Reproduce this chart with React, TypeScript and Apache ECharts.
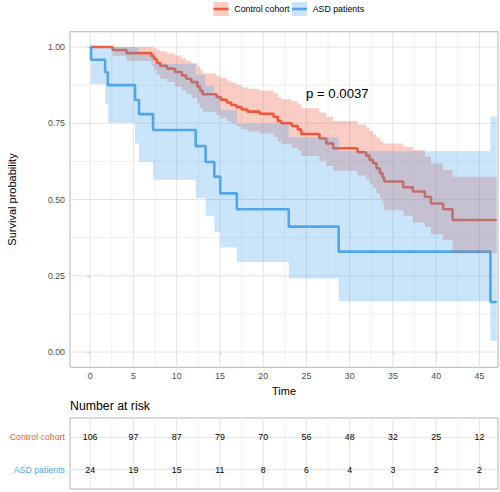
import React, { useEffect, useRef } from 'react';
import * as echarts from 'echarts';

const FONT = '"Liberation Sans", Arial, Helvetica, sans-serif';
const RED = '#EE5A3C';
const BLUE = '#4FA6EA';
const RED_FILL = 'rgba(238,90,60,0.3)';
const BLUE_FILL = 'rgba(79,166,234,0.3)';
const GRID_MAJOR = '#e4e4e4';
const GRID_MINOR = '#f0f0f0';
const BORDER = '#b3b3b3';
const AXIS_TEXT = '#4d4d4d';

// Control cohort Kaplan-Meier estimate (time, survival, 95% CI upper, lower)
const ctrlTime = [0, 2.6, 4.2, 7.1, 7.4, 7.7, 8.1, 8.9, 9.8, 10.6, 11.1, 11.7, 12.4, 12.7, 13.0, 14.6, 15.1, 15.8, 16.3, 16.9, 17.5, 18.2, 19.6, 21.2, 21.7, 22.1, 23.3, 24.0, 24.4, 26.5, 27.3, 28.1, 30.9, 31.9, 32.3, 32.7, 33.1, 33.5, 33.8, 34.0, 36.2, 37.3, 38.7, 39.4, 40.8, 41.9];
const ctrlSurv = [1, 0.990, 0.980, 0.970, 0.960, 0.948, 0.938, 0.929, 0.918, 0.907, 0.896, 0.885, 0.870, 0.857, 0.845, 0.836, 0.827, 0.818, 0.810, 0.803, 0.795, 0.788, 0.781, 0.771, 0.757, 0.750, 0.741, 0.730, 0.715, 0.700, 0.684, 0.668, 0.655, 0.644, 0.630, 0.619, 0.602, 0.586, 0.572, 0.559, 0.540, 0.526, 0.509, 0.487, 0.468, 0.433];
const ctrlUpper = [1, 1, 1, 1, 0.996, 0.990, 0.985, 0.979, 0.972, 0.963, 0.955, 0.947, 0.937, 0.925, 0.914, 0.905, 0.898, 0.890, 0.884, 0.876, 0.868, 0.863, 0.857, 0.848, 0.836, 0.829, 0.822, 0.812, 0.799, 0.785, 0.771, 0.757, 0.745, 0.736, 0.724, 0.714, 0.703, 0.692, 0.688, 0.684, 0.673, 0.662, 0.640, 0.619, 0.597, 0.575];
const ctrlLower = [1, 0.971, 0.954, 0.938, 0.925, 0.909, 0.896, 0.885, 0.870, 0.858, 0.846, 0.833, 0.815, 0.800, 0.788, 0.777, 0.766, 0.756, 0.748, 0.740, 0.731, 0.723, 0.716, 0.704, 0.690, 0.681, 0.670, 0.659, 0.643, 0.627, 0.610, 0.594, 0.579, 0.566, 0.550, 0.538, 0.520, 0.503, 0.490, 0.465, 0.447, 0.425, 0.410, 0.386, 0.366, 0.324];

// ASD patients Kaplan-Meier estimate
const asdTime = [0, 0.1, 1.73, 2.04, 5.19, 5.65, 7.27, 12.2, 13.35, 14.35, 15.04, 16.96, 22.96, 28.73, 46.27];
const asdSurv = [1, 0.958, 0.917, 0.875, 0.826, 0.780, 0.728, 0.675, 0.623, 0.575, 0.520, 0.468, 0.411, 0.329, 0.164];
const asdUpper = [1, 1, 1, 1, 0.997, 0.975, 0.945, 0.910, 0.872, 0.839, 0.793, 0.748, 0.704, 0.658, 0.772];
const asdLower = [1, 0.878, 0.813, 0.752, 0.684, 0.624, 0.565, 0.505, 0.447, 0.394, 0.343, 0.295, 0.241, 0.166, 0.036];

const tEnd = 47.0;

// Axis ticks / grid positions
const xMajor = [0, 5, 10, 15, 20, 25, 30, 35, 40, 45];
const xMinor = [2.5, 7.5, 12.5, 17.5, 22.5, 27.5, 32.5, 37.5, 42.5];
const yMajor = [0, 0.25, 0.5, 0.75, 1];
const yMinor = [0.125, 0.375, 0.625, 0.875];

// Number at risk table
const riskTimes = [0, 5, 10, 15, 20, 25, 30, 35, 40, 45];
const riskControl = [106, 97, 87, 79, 70, 56, 48, 32, 25, 12];
const riskASD = [24, 19, 15, 11, 8, 6, 4, 3, 2, 2];
const riskRows = [1, 2]; // 1 = ASD patients, 2 = Control cohort

const isMult = (v: number, s: number) => Math.abs(v / s - Math.round(v / s)) < 1e-6;

function bandRender(time: number[], up: number[], lo: number[], fill: string) {
  return (params: any, api: any) => {
    const n = time.length;
    const pts: number[][] = [];
    for (let i = 0; i < n; i++) {
      const x0 = time[i];
      const x1 = i < n - 1 ? time[i + 1] : tEnd;
      pts.push(api.coord([x0, up[i]]));
      pts.push(api.coord([x1, up[i]]));
    }
    for (let i = n - 1; i >= 0; i--) {
      const x0 = time[i];
      const x1 = i < n - 1 ? time[i + 1] : tEnd;
      pts.push(api.coord([x1, lo[i]]));
      pts.push(api.coord([x0, lo[i]]));
    }
    return { type: 'polygon', shape: { points: pts }, style: { fill }, silent: true };
  };
}

function gridRender(xs1: number[], xs2: number[], ys1: number[], ys2: number[]) {
  return (params: any, api: any) => {
    const cs = params.coordSys;
    const children: any[] = [];
    const vline = (v: number, color: string) => {
      const p = api.coord([v, ys1.length ? ys1[0] : 1]);
      children.push({ type: 'line', shape: { x1: p[0], y1: cs.y, x2: p[0], y2: cs.y + cs.height }, style: { stroke: color, lineWidth: 1 }, silent: true });
    };
    const hline = (v: number, color: string) => {
      const p = api.coord([0, v]);
      children.push({ type: 'line', shape: { x1: cs.x, y1: p[1], x2: cs.x + cs.width, y2: p[1] }, style: { stroke: color, lineWidth: 1 }, silent: true });
    };
    xs2.forEach((v) => vline(v, GRID_MINOR));
    ys2.forEach((v) => hline(v, GRID_MINOR));
    xs1.forEach((v) => vline(v, GRID_MAJOR));
    ys1.forEach((v) => hline(v, GRID_MAJOR));
    return { type: 'group', children };
  };
}

const stepData = (time: number[], surv: number[]) =>
  time.map((t, i) => [t, surv[i]]).concat([[tEnd, surv[surv.length - 1]]]);

export default function App() {
  const ref = useRef<HTMLDivElement>(null);

  useEffect(() => {
    if (!ref.current) return;
    const chart = echarts.init(ref.current, undefined, { renderer: 'svg' });

    const riskData = riskTimes
      .map((t, i) => [t, riskRows[1], riskControl[i]])
      .concat(riskTimes.map((t, i) => [t, riskRows[0], riskASD[i]]));

    const option: any = {
      animation: false,
      backgroundColor: '#ffffff',
      textStyle: { fontFamily: FONT },
      grid: [
        { left: 70, top: 31.75, width: 428, height: 335.5, show: true, borderColor: BORDER, borderWidth: 1, backgroundColor: 'transparent', containLabel: false, outerBoundsMode: 'none' },
        { left: 70, top: 418, width: 428, height: 71, show: true, borderColor: BORDER, borderWidth: 1, backgroundColor: 'transparent', containLabel: false, outerBoundsMode: 'none' },
      ],
      xAxis: [
        {
          type: 'value', gridIndex: 0, min: -2.33, max: 47.15, minInterval: 5, maxInterval: 5,
          axisLine: { show: false },
          axisTick: { show: true, customValues: xMajor, length: 3, lineStyle: { color: BORDER } },
          axisLabel: { customValues: xMajor, formatter: (v: number) => (isMult(v, 5) && v >= 0 && v <= 45 ? String(v) : ''), margin: 4, fontSize: 8.8, color: AXIS_TEXT, fontFamily: FONT },
          splitLine: { show: false },
          name: 'Time', nameLocation: 'middle', nameGap: 6,
          nameTextStyle: { fontSize: 11, color: '#000', fontFamily: FONT },
        },
        {
          type: 'value', gridIndex: 1, min: -2.33, max: 47.15, minInterval: 5, maxInterval: 5,
          axisLine: { show: false }, axisTick: { show: false }, axisLabel: { show: false }, splitLine: { show: false },
        },
      ],
      yAxis: [
        {
          type: 'value', gridIndex: 0, min: -0.05, max: 1.05, minInterval: 0.25, maxInterval: 0.25,
          axisLine: { show: false },
          axisTick: { show: true, customValues: yMajor, length: 3, lineStyle: { color: BORDER } },
          axisLabel: { customValues: yMajor, formatter: (v: number) => (isMult(v, 0.25) && v >= 0 && v <= 1 ? v.toFixed(2) : ''), margin: 5, fontSize: 8.8, color: AXIS_TEXT, fontFamily: FONT },
          splitLine: { show: false },
          name: 'Survival probability', nameLocation: 'middle', nameGap: 53,
          nameTextStyle: { fontSize: 11, color: '#000', fontFamily: FONT },
        },
        {
          type: 'value', gridIndex: 1, min: 0.4, max: 2.6, minInterval: 1, maxInterval: 1,
          axisLine: { show: false },
          axisTick: { show: true, customValues: riskRows, length: 3, lineStyle: { color: BORDER } },
          axisLabel: {
            customValues: riskRows,
            formatter: (v: number) => (Math.abs(v - 1) < 1e-6 ? '{a|ASD patients}' : Math.abs(v - 2) < 1e-6 ? '{c|Control cohort}' : ''),
            margin: 5,
            rich: {
              a: { color: BLUE, fontSize: 8.8, fontFamily: FONT },
              c: { color: RED, fontSize: 8.8, fontFamily: FONT },
            },
          },
          splitLine: { show: false },
        },
      ],
      series: [
        { type: 'custom', xAxisIndex: 0, yAxisIndex: 0, data: [[0, 0]], renderItem: gridRender(xMajor, xMinor, yMajor, yMinor), silent: true, z: 1 },
        { type: 'line', name: 'Control cohort', xAxisIndex: 0, yAxisIndex: 0, data: stepData(ctrlTime, ctrlSurv), step: 'end', showSymbol: false, symbol: 'none', lineStyle: { color: RED, width: 2.6 }, itemStyle: { color: RED }, silent: true, z: 2 },
        { type: 'line', name: 'ASD patients', xAxisIndex: 0, yAxisIndex: 0, data: stepData(asdTime, asdSurv), step: 'end', showSymbol: false, symbol: 'none', lineStyle: { color: BLUE, width: 2.6 }, itemStyle: { color: BLUE }, silent: true, z: 2 },
        { type: 'custom', xAxisIndex: 0, yAxisIndex: 0, data: [[0, 0]], renderItem: bandRender(ctrlTime, ctrlUpper, ctrlLower, RED_FILL), silent: true, z: 3 },
        { type: 'custom', xAxisIndex: 0, yAxisIndex: 0, data: [[0, 0]], renderItem: bandRender(asdTime, asdUpper, asdLower, BLUE_FILL), silent: true, z: 4 },
        { type: 'custom', xAxisIndex: 1, yAxisIndex: 1, data: [[0, 1]], renderItem: gridRender(xMajor, xMinor, riskRows, []), silent: true, z: 1 },
        {
          type: 'custom', xAxisIndex: 1, yAxisIndex: 1, data: riskData, silent: true, z: 3,
          renderItem: (params: any, api: any) => {
            const p = api.coord([api.value(0), api.value(1)]);
            return {
              type: 'text', x: p[0], y: p[1],
              style: { text: String(api.value(2)), align: 'center', verticalAlign: 'middle', textAlign: 'center', textVerticalAlign: 'middle', fontSize: 8.8, fontFamily: FONT, fill: '#000' },
            };
          },
        },
      ],
      graphic: [
        { type: 'rect', shape: { x: 213.5, y: 2, width: 15, height: 14 }, style: { fill: RED_FILL }, silent: true },
        { type: 'line', shape: { x1: 213.5, y1: 9, x2: 228.5, y2: 9 }, style: { stroke: RED, lineWidth: 2.6 }, silent: true },
        { type: 'text', x: 234.3, y: 9, style: { text: 'Control cohort', fontSize: 8.8, fontFamily: FONT, fill: '#000', verticalAlign: 'middle', textVerticalAlign: 'middle' }, silent: true },
        { type: 'rect', shape: { x: 292, y: 2, width: 15, height: 14 }, style: { fill: BLUE_FILL }, silent: true },
        { type: 'line', shape: { x1: 292, y1: 9, x2: 307, y2: 9 }, style: { stroke: BLUE, lineWidth: 2.6 }, silent: true },
        { type: 'text', x: 312.7, y: 9, style: { text: 'ASD patients', fontSize: 8.8, fontFamily: FONT, fill: '#000', verticalAlign: 'middle', textVerticalAlign: 'middle' }, silent: true },
        { type: 'text', x: 306, y: 93, style: { text: 'p = 0.0037', fontSize: 13.2, fontFamily: FONT, fill: '#000', verticalAlign: 'middle', textVerticalAlign: 'middle' }, silent: true, z: 10 },
        { type: 'text', x: 70, y: 406, style: { text: 'Number at risk', fontSize: 12.3, fontFamily: FONT, fill: '#000', verticalAlign: 'middle', textVerticalAlign: 'middle' }, silent: true },
      ],
    };

    chart.setOption(option);
    return () => {
      chart.dispose();
    };
  }, []);

  return <div ref={ref} style={{ position: 'absolute', left: 0, top: 0, width: 500, height: 492 }} />;
}
